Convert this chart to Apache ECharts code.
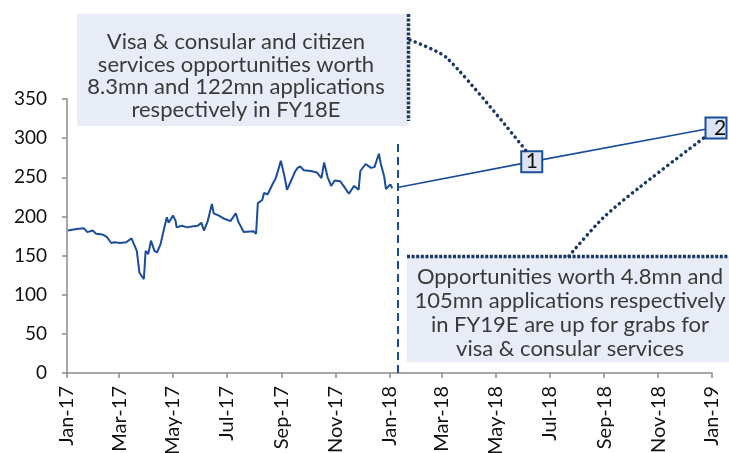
<!DOCTYPE html>
<html>
<head>
<meta charset="utf-8">
<script src="https://cdn.jsdelivr.net/npm/echarts@6/dist/echarts.min.js"></script>
<style>
  html, body { margin: 0; padding: 0; background: #fff; }
  #chart { width: 729px; height: 453px; }
</style>
</head>
<body>
<div id="chart"></div>
<script>
// price history
const priceDates = [
  '2017-01-02', '2017-01-12', '2017-01-20', '2017-01-24', '2017-01-30', '2017-02-03',
  '2017-02-10', '2017-02-15', '2017-02-20', '2017-02-24', '2017-03-02', '2017-03-09',
  '2017-03-15', '2017-03-17', '2017-03-21', '2017-03-24', '2017-03-29', '2017-03-31',
  '2017-04-03', '2017-04-06', '2017-04-10', '2017-04-13', '2017-04-17', '2017-04-20',
  '2017-04-24', '2017-04-26', '2017-05-01', '2017-05-04', '2017-05-05', '2017-05-11',
  '2017-05-17', '2017-05-22', '2017-05-29', '2017-06-02', '2017-06-05', '2017-06-09',
  '2017-06-14', '2017-06-16', '2017-06-22', '2017-06-28', '2017-07-05', '2017-07-11',
  '2017-07-14', '2017-07-20', '2017-07-31', '2017-08-03', '2017-08-05', '2017-08-10',
  '2017-08-12', '2017-08-16', '2017-08-22', '2017-08-25', '2017-08-29', '2017-08-31',
  '2017-09-04', '2017-09-07', '2017-09-11', '2017-09-16', '2017-09-19', '2017-09-22',
  '2017-09-26', '2017-10-04', '2017-10-11', '2017-10-16', '2017-10-19', '2017-10-23',
  '2017-10-27', '2017-10-31', '2017-11-06', '2017-11-10', '2017-11-16', '2017-11-22',
  '2017-11-27', '2017-11-29', '2017-12-05', '2017-12-11', '2017-12-15', '2017-12-20',
  '2017-12-22', '2017-12-26', '2017-12-28', '2018-01-02', '2018-01-04'
]
const priceValues = [
  182, 184, 185, 180, 182, 178,
  177, 174, 166, 167, 166, 167,
  172, 173, 156, 128, 120, 156,
  152, 169, 156, 154, 165, 180,
  199, 192, 201, 194, 186, 188,
  186, 187, 188, 192, 182, 193,
  216, 204, 201, 197, 194, 204,
  193, 180, 181, 178, 217, 221,
  230, 228, 242, 248, 263, 271,
  252, 234, 244, 257, 262, 264,
  259, 258, 256, 249, 269, 250,
  239, 246, 245, 239, 229, 239,
  234, 258, 267, 262, 263, 280,
  268, 251, 235, 241, 236
]

// outlook line with the two call-out points
const outlookDates = ['2018-01-10', '2018-06-11', '2019-01-01']
const outlookValues = [237, 270, 313]
const outlookLabels = ['', '1', '2']

// vertical divider
const dividerDate = '2018-01-10'
const dividerTop = 298

const months = ['Jan', 'Feb', 'Mar', 'Apr', 'May', 'Jun', 'Jul', 'Aug', 'Sep', 'Oct', 'Nov', 'Dec']

const note1 = [
  'Visa & consular and citizen',
  'services opportunities worth',
  '8.3mn and 122mn applications',
  'respectively in FY18E'
]
const note2 = [
  'Opportunities worth 4.8mn and',
  '105mn applications respectively',
  'in FY19E are up for grabs for',
  'visa & consular services'
]

const blue = '#1A4D9C'
const navy = '#1B3766'
const FONT = 'Lato'

const chart = echarts.init(document.getElementById('chart'))

const option = {
  animation: false,
  textStyle: { fontFamily: FONT },
  grid: { left: 67, right: 17, top: 99, bottom: 80, outerBoundsMode: 'none', containLabel: false },
  xAxis: {
    type: 'time',
    min: '2017-01-01',
    max: '2019-01-01',
    splitNumber: 12,
    minInterval: 59 * 86400000,
    maxInterval: 62 * 86400000,
    axisLine: { lineStyle: { color: '#8a8a8a', width: 1.5 } },
    axisTick: { show: true, length: 5, lineStyle: { color: '#8a8a8a', width: 1.5 } },
    splitLine: { show: false },
    axisLabel: {
      rotate: 90,
      fontSize: 20,
      color: '#111',
      margin: 13,
      showMinLabel: true,
      showMaxLabel: true,
      fontFamily: FONT,
      formatter: function (val) {
        const d = new Date(val)
        return months[d.getMonth()] + '-' + String(d.getFullYear()).slice(2)
      }
    }
  },
  yAxis: {
    type: 'value',
    min: 0,
    max: 350,
    interval: 50,
    axisLine: { show: true, lineStyle: { color: '#8a8a8a', width: 1.5 } },
    axisTick: { show: true, length: 5, lineStyle: { color: '#8a8a8a', width: 1.5 } },
    splitLine: { show: false },
    axisLabel: { fontSize: 19, color: '#111', margin: 20, fontFamily: FONT }
  },
  series: [
    {
      type: 'line',
      data: priceDates.map((d, i) => [d, priceValues[i]]),
      showSymbol: false,
      lineStyle: { color: blue, width: 2 },
      z: 3
    },
    {
      type: 'line',
      data: outlookDates.map((d, i) => {
        const item = { value: [d, outlookValues[i]] }
        if (outlookLabels[i]) {
          item.symbol = 'rect'
          item.symbolSize = 21
          item.symbolOffset = i === outlookDates.length - 1 ? [4, 0] : [0, 0]
          item.label = {
            show: true,
            position: 'inside',
            offset: i === outlookDates.length - 1 ? [4, 0] : [0, 0],
            formatter: outlookLabels[i],
            fontSize: 21,
            color: '#111',
            fontFamily: FONT
          }
        } else {
          item.symbol = 'none'
        }
        return item
      }),
      lineStyle: { color: blue, width: 1.6 },
      itemStyle: { color: '#DCE3F2', borderColor: blue, borderWidth: 2 },
      clip: false,
      z: 4,
      markLine: {
        silent: true,
        symbol: 'none',
        label: { show: false },
        lineStyle: { color: blue, width: 2, type: [8, 5] },
        data: [[{ coord: [dividerDate, 0] }, { coord: [dividerDate, dividerTop] }]]
      }
    }
  ]
}

chart.setOption(option)

// call-out boxes and connectors
function noteText(lines, cx, top, gap, size) {
  return lines.map((t, i) => ({
    type: 'text',
    z: 10,
    style: {
      text: t,
      x: cx,
      y: top + i * gap,
      align: 'center',
      verticalAlign: 'middle',
      fontSize: size,
      fontFamily: FONT,
      fill: '#3a3a3a'
    }
  }))
}

const p1 = chart.convertToPixel({ seriesIndex: 1 }, [outlookDates[1], outlookValues[1]])
const p2 = chart.convertToPixel({ seriesIndex: 1 }, [outlookDates[2], outlookValues[2]])

const dots = { stroke: navy, lineWidth: 3.5, lineDash: [0.1, 5.5], lineCap: 'round', fill: null }
const dense = { stroke: navy, lineWidth: 3.5, lineDash: [3, 1.6], lineCap: 'butt', fill: null }

chart.setOption({
  graphic: [
    { type: 'rect', z: 9, shape: { x: 77, y: 14, width: 331, height: 112 }, style: { fill: '#E8ECF6' } },
    { type: 'rect', z: 9, shape: { x: 407, y: 256, width: 322, height: 106 }, style: { fill: '#E8ECF6' } },
    ...noteText(note1, 236, 42, 22.5, 22),
    ...noteText(note2, 570, 277, 24, 22),
    { type: 'line', z: 11, shape: { x1: 408.5, y1: 14, x2: 408.5, y2: 121 }, style: dense },
    { type: 'line', z: 11, shape: { x1: 407, y1: 256.5, x2: 729, y2: 256.5 }, style: dense },
    {
      type: 'polyline', z: 11,
      shape: { points: [[410, 40], [447, 58], [p1[0] - 5, p1[1] - 10]], smooth: 0.25 },
      style: dots
    },
    {
      type: 'polyline', z: 11,
      shape: { points: [[569, 256], [603, 218], [640, 187], [p2[0] - 7, p2[1] + 9]], smooth: 0.3 },
      style: dots
    }
  ]
})
</script>
</body>
</html>
